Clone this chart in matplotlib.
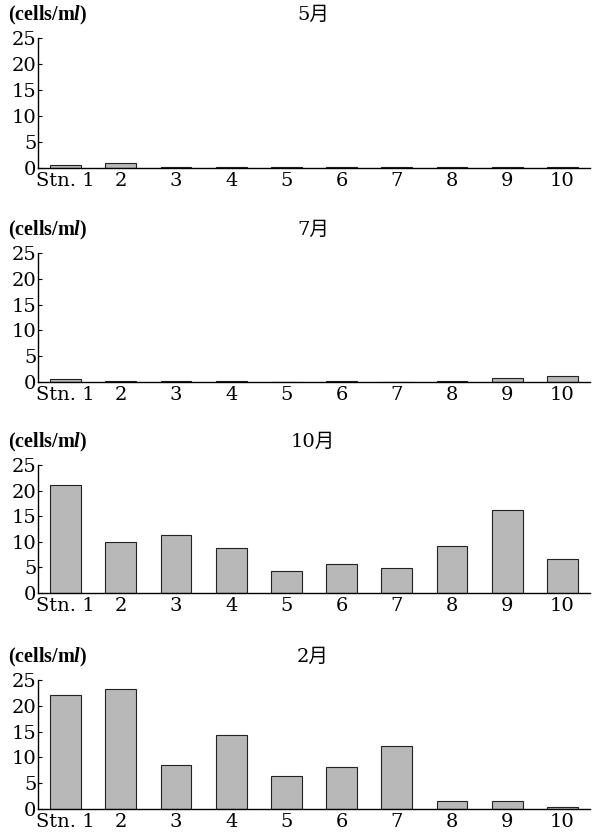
import numpy as np
import matplotlib.pyplot as plt

plt.rcParams['font.family'] = ['DejaVu Serif', 'Noto Sans CJK JP']
plt.rcParams['mathtext.fontset'] = 'custom'
plt.rcParams['mathtext.it'] = 'Liberation Serif:italic:bold'
plt.rcParams['mathtext.rm'] = 'Liberation Serif'

# station labels
stations = ['Stn. 1', '2', '3', '4', '5', '6', '7', '8', '9', '10']

# cell density (cells/ml) per month
may = [0.5, 0.9, 0.1, 0.1, 0.1, 0.1, 0.1, 0.1, 0.1, 0.1]
jul = [0.5, 0.1, 0.1, 0.1, 0.0, 0.1, 0.0, 0.2, 0.8, 1.2]
oct_ = [21.1, 10.0, 11.3, 8.7, 4.2, 5.7, 4.8, 9.2, 16.2, 6.7]
feb = [22.0, 23.2, 8.5, 14.3, 6.4, 8.1, 12.3, 1.6, 1.5, 0.4]

months = ['5月', '7月', '10月', '2月']
series = [may, jul, oct_, feb]

W, H = 592, 836
fig = plt.figure(figsize=(W / 100, H / 100), dpi=100)

# (top, bottom) pixel of each panel's plotting area
panels = [(38, 168), (253, 382), (465, 593), (680, 809)]
left, right = 38, 590

x = np.arange(len(stations))
for (top, bot), month, vals in zip(panels, months, series):
    ax = fig.add_axes([left / W, 1 - bot / H, (right - left) / W, (bot - top) / H])
    ax.bar(x, vals, width=0.56, color='#b8b8b8', edgecolor='#222222', linewidth=0.8)
    ax.set_xlim(-0.5, 9.5)
    ax.set_ylim(0, 25)
    ax.set_yticks([0, 5, 10, 15, 20, 25])
    ax.set_xticks(x)
    ax.set_xticklabels(stations)
    ax.spines['top'].set_visible(False)
    ax.spines['right'].set_visible(False)
    ax.spines['left'].set_linewidth(1.0)
    ax.spines['bottom'].set_linewidth(1.0)
    ax.tick_params(axis='y', direction='in', length=3, width=0.8, pad=1, labelsize=14)
    ax.tick_params(axis='x', length=0, pad=3, labelsize=14)

    ty = 1 - (top - 23) / H
    fig.text(8 / W, ty, r'(cells/m$\mathit{l}$)', family='Liberation Serif',
             fontsize=14.5, fontweight='bold', ha='left', va='center')
    fig.text(313 / W, ty, month, fontsize=14, ha='center', va='center')

fig.savefig('out.png', dpi=100)
